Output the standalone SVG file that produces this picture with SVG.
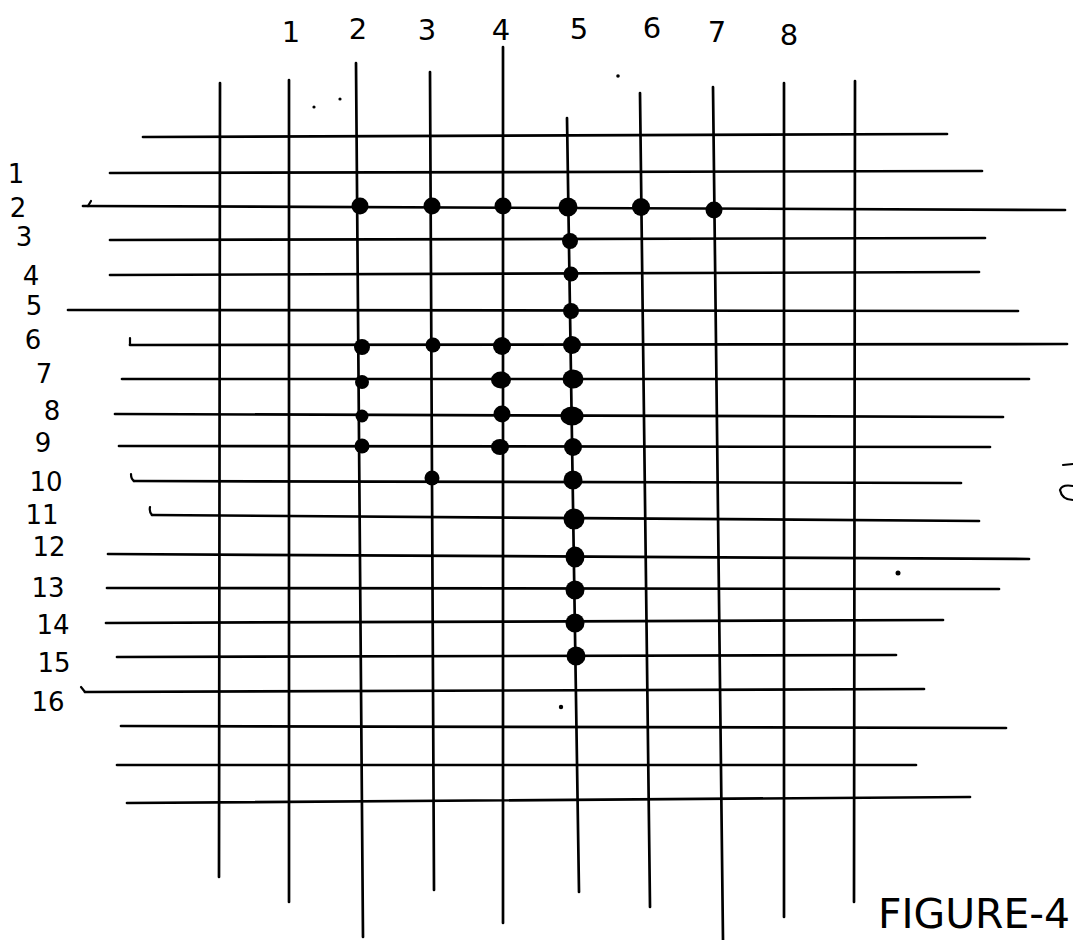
<svg xmlns="http://www.w3.org/2000/svg" width="1073" height="940" viewBox="0 0 1073 940">
<style>
.ln{stroke:#000;stroke-width:2.7;fill:none;stroke-linecap:round}
.tk{stroke:#000;stroke-width:2.2;fill:none;stroke-linecap:round}
.dt{fill:#000}
.lb{font-family:"DejaVu Sans","Liberation Sans",sans-serif;font-size:29px;fill:#000;text-anchor:middle;font-weight:normal}
.rl{font-family:"DejaVu Sans","Liberation Sans",sans-serif;font-size:26px;fill:#000;text-anchor:middle;font-weight:normal}
.ttl{font-family:"DejaVu Sans","Liberation Sans",sans-serif;font-size:40px;fill:#000;font-weight:normal}
</style>
<rect width="1073" height="940" fill="#fff"/>
<g id="columns">
<line class="ln" x1="220" y1="83" x2="219" y2="877"/>
<line class="ln" x1="289" y1="80" x2="289" y2="902"/>
<line class="ln" x1="356" y1="63" x2="363" y2="937"/>
<line class="ln" x1="430" y1="72" x2="434" y2="890"/>
<line class="ln" x1="503" y1="47" x2="503" y2="923"/>
<line class="ln" x1="567" y1="118" x2="579" y2="892"/>
<line class="ln" x1="640" y1="93" x2="650" y2="907"/>
<line class="ln" x1="713" y1="87" x2="723" y2="940"/>
<line class="ln" x1="784" y1="83" x2="784" y2="917"/>
<line class="ln" x1="855" y1="81" x2="854" y2="902"/>
</g>
<g id="rows">
<line class="ln" x1="143" y1="137" x2="947" y2="134"/>
<line class="ln" x1="110" y1="173" x2="982" y2="171"/>
<line class="ln" x1="83" y1="206" x2="1065" y2="210"/>
<line class="ln" x1="110" y1="240" x2="985" y2="238"/>
<line class="ln" x1="110" y1="275" x2="979" y2="272"/>
<line class="ln" x1="68" y1="310" x2="1018" y2="311"/>
<line class="ln" x1="130" y1="345" x2="1067" y2="344"/>
<line class="ln" x1="122" y1="379" x2="1029" y2="379"/>
<line class="ln" x1="115" y1="414" x2="1003" y2="417"/>
<line class="ln" x1="119" y1="446" x2="990" y2="447"/>
<line class="ln" x1="134" y1="481" x2="961" y2="483"/>
<line class="ln" x1="152" y1="515" x2="979" y2="521"/>
<line class="ln" x1="108" y1="554" x2="1029" y2="559"/>
<line class="ln" x1="107" y1="588" x2="999" y2="589"/>
<line class="ln" x1="106" y1="623" x2="943" y2="620"/>
<line class="ln" x1="117" y1="657" x2="896" y2="655"/>
<line class="ln" x1="85" y1="692" x2="924" y2="689"/>
<line class="ln" x1="121" y1="726" x2="1006" y2="728"/>
<line class="ln" x1="117" y1="765" x2="916" y2="765"/>
<line class="ln" x1="127" y1="803" x2="970" y2="797"/>
<path class="tk" d="M130 345 L130 338"/>
<path class="tk" d="M134 481 Q131 479 131 474"/>
<path class="tk" d="M152 515 Q149 512 150 507"/>
<path class="tk" d="M85 692 L81 687"/>
<path class="tk" d="M88 206 L91 201"/>
</g>
<g id="points">
<g id="r2"><circle class="dt" cx="360" cy="206" r="8.5"/><circle class="dt" cx="432" cy="206" r="8.5"/><circle class="dt" cx="503" cy="206" r="8.5"/><circle class="dt" cx="568" cy="207" r="9.5"/><circle class="dt" cx="641" cy="207" r="9"/><circle class="dt" cx="714" cy="210" r="8.5"/></g>
<g id="c5"><circle class="dt" cx="570" cy="241" r="8"/><circle class="dt" cx="571" cy="274" r="7.5"/><circle class="dt" cx="571" cy="311" r="8"/><circle class="dt" cx="572" cy="345" r="9"/><ellipse class="dt" cx="573" cy="379" rx="10.5" ry="9.5"/><ellipse class="dt" cx="572" cy="416" rx="11.5" ry="9.5"/><circle class="dt" cx="573" cy="447" r="9"/><circle class="dt" cx="573" cy="480" r="9.5"/><circle class="dt" cx="574" cy="519" r="10.5"/><ellipse class="dt" cx="575" cy="557" rx="9.5" ry="10.5"/><circle class="dt" cx="575" cy="590" r="9.5"/><circle class="dt" cx="575" cy="623" r="9.5"/><circle class="dt" cx="576" cy="656" r="9.5"/></g>
<g id="c2"><circle class="dt" cx="362" cy="347" r="8"/><circle class="dt" cx="362" cy="382" r="7"/><circle class="dt" cx="362" cy="416" r="6.5"/><circle class="dt" cx="362" cy="446" r="7.5"/></g>
<g id="c3"><circle class="dt" cx="433" cy="345" r="7.5"/><circle class="dt" cx="432" cy="478" r="7.5"/></g>
<g id="c4"><circle class="dt" cx="502" cy="346" r="9"/><ellipse class="dt" cx="501" cy="380" rx="10" ry="8.5"/><circle class="dt" cx="502" cy="414" r="8.5"/><ellipse class="dt" cx="500" cy="447" rx="9" ry="8"/></g>
</g>
<g id="col-labels">
<text class="lb" x="291" y="42">1</text>
<text class="lb" x="358" y="39">2</text>
<text class="lb" x="427" y="40">3</text>
<text class="lb" x="501" y="40">4</text>
<text class="lb" x="579" y="39">5</text>
<text class="lb" x="652" y="38">6</text>
<text class="lb" x="717" y="42">7</text>
<text class="lb" x="789" y="45">8</text>
</g>
<g id="row-labels">
<text class="rl" x="16" y="183">1</text>
<text class="rl" x="18" y="217">2</text>
<text class="rl" x="24" y="246">3</text>
<text class="rl" x="31" y="285">4</text>
<text class="rl" x="34" y="315">5</text>
<text class="rl" x="33" y="349">6</text>
<text class="rl" x="44" y="383">7</text>
<text class="rl" x="52" y="420">8</text>
<text class="rl" x="43" y="452">9</text>
<text class="rl" x="46" y="491">10</text>
<text class="rl" x="42" y="524">11</text>
<text class="rl" x="49" y="556">12</text>
<text class="rl" x="48" y="597">13</text>
<text class="rl" x="53" y="634">14</text>
<text class="rl" x="54" y="672">15</text>
<text class="rl" x="48" y="711">16</text>
</g>
<g id="title">
<text class="ttl" x="878" y="928" textLength="192" lengthAdjust="spacingAndGlyphs">FIGURE-4</text>
</g>
<g id="marks">
<circle class="dt" cx="314" cy="107" r="1.6"/>
<circle class="dt" cx="340" cy="99" r="1.6"/>
<circle class="dt" cx="618" cy="76" r="1.8"/>
<circle class="dt" cx="898" cy="573" r="2.5"/>
<circle class="dt" cx="561" cy="707" r="2.2"/>
<path class="tk" d="M1063 465 L1073 464"/>
<path class="tk" d="M1073 486 Q1062 484 1060 490 Q1062 500 1073 500"/>
</g>
</svg>
